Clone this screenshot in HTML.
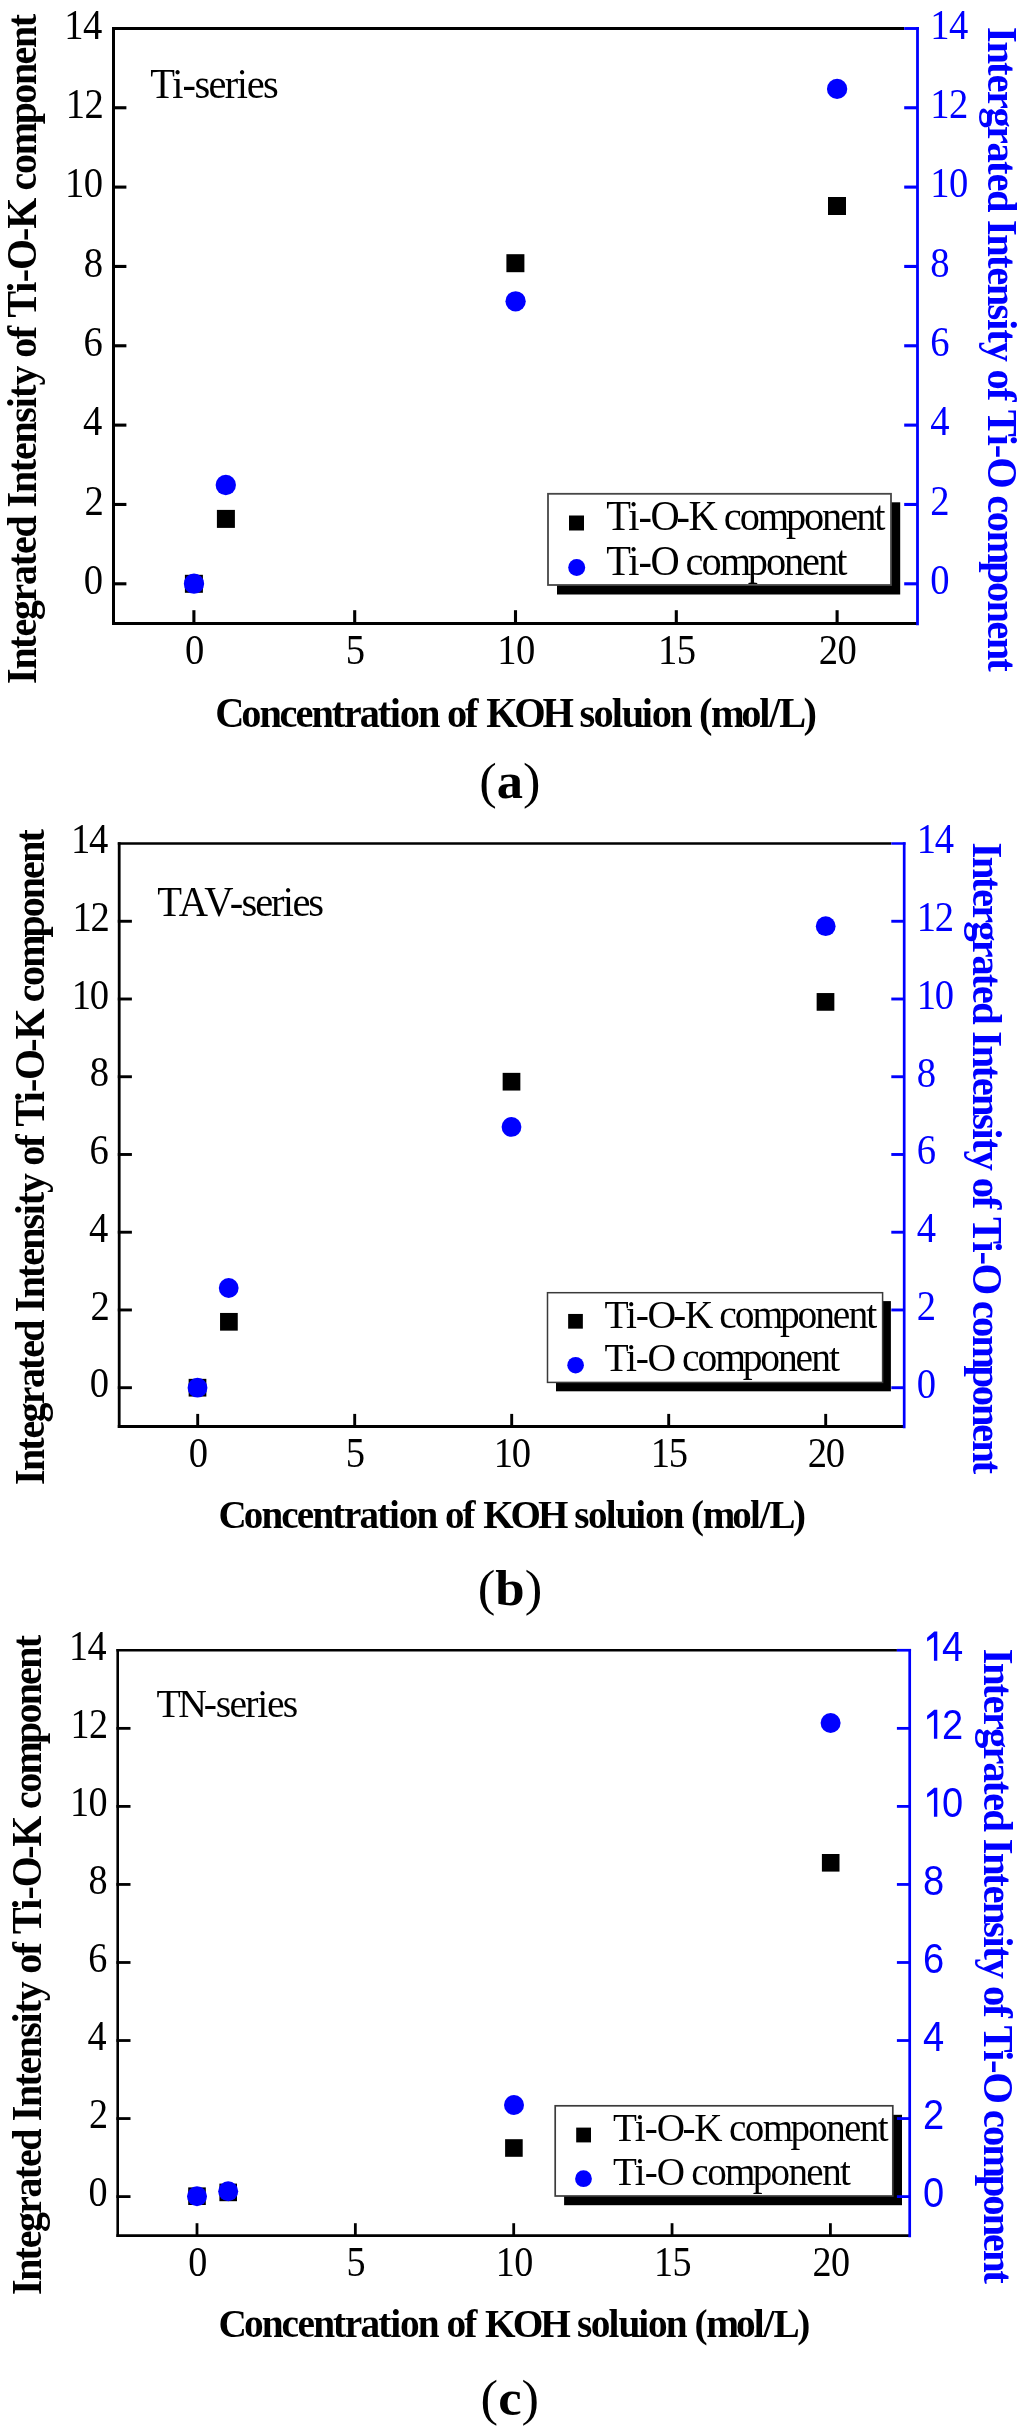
<!DOCTYPE html>
<html><head><meta charset="utf-8"><title>Integrated intensity vs KOH concentration</title>
<style>
html,body{margin:0;padding:0;background:#fff;}
body{width:1024px;height:2428px;overflow:hidden;}
svg{display:block;will-change:transform;}
text{font-kerning:none;font-variant-ligatures:none;white-space:pre;}
</style></head>
<body>
<svg width="1024" height="2428" viewBox="0 0 1024 2428">
<rect width="1024" height="2428" fill="#fff"/>
<rect x="184.90" y="574.80" width="18.00" height="18.00" fill="#000" />
<rect x="216.90" y="509.90" width="18.00" height="18.00" fill="#000" />
<rect x="506.40" y="254.20" width="18.00" height="18.00" fill="#000" />
<rect x="828.00" y="197.00" width="18.00" height="18.00" fill="#000" />
<circle cx="194.00" cy="583.70" r="10.15" fill="#0000ff"/>
<circle cx="225.80" cy="485.00" r="10.15" fill="#0000ff"/>
<circle cx="515.60" cy="301.30" r="10.15" fill="#0000ff"/>
<circle cx="837.10" cy="88.90" r="10.15" fill="#0000ff"/>
<rect x="557.00" y="502.30" width="343.20" height="92.20" fill="#000" />
<rect x="548.00" y="493.80" width="343.00" height="91.20" fill="#fff" stroke="#474747" stroke-width="1.8"/>
<rect x="569.00" y="515.50" width="15.00" height="15.00" fill="#000" />
<circle cx="576.70" cy="567.60" r="8.50" fill="#0000ff"/>
<text transform="translate(606.27 530.00) scale(0.97 1)" x="0.00 22.76 33.12 45.53 72.44 84.85 111.77 121.08 137.62 156.26 185.24 203.88 222.51 241.14 257.69 276.32" font-family='"Liberation Serif", serif' font-weight="normal" font-size="41.70" fill="#000">Ti-O-K component</text>
<text transform="translate(606.27 574.90) scale(0.97 1)" x="0.00 22.76 33.12 45.53 72.44 81.76 98.30 116.93 145.92 164.55 183.19 201.82 218.36 237.00" font-family='"Liberation Serif", serif' font-weight="normal" font-size="41.70" fill="#000">Ti-O component</text>
<line x1="112.00" y1="583.80" x2="126.40" y2="583.80" stroke="#000" stroke-width="3.1"/>
<line x1="904.20" y1="583.80" x2="917.50" y2="583.80" stroke="#0000ff" stroke-width="3.1"/>
<line x1="112.00" y1="504.46" x2="126.40" y2="504.46" stroke="#000" stroke-width="3.1"/>
<line x1="904.20" y1="504.46" x2="917.50" y2="504.46" stroke="#0000ff" stroke-width="3.1"/>
<line x1="112.00" y1="425.12" x2="126.40" y2="425.12" stroke="#000" stroke-width="3.1"/>
<line x1="904.20" y1="425.12" x2="917.50" y2="425.12" stroke="#0000ff" stroke-width="3.1"/>
<line x1="112.00" y1="345.78" x2="126.40" y2="345.78" stroke="#000" stroke-width="3.1"/>
<line x1="904.20" y1="345.78" x2="917.50" y2="345.78" stroke="#0000ff" stroke-width="3.1"/>
<line x1="112.00" y1="266.44" x2="126.40" y2="266.44" stroke="#000" stroke-width="3.1"/>
<line x1="904.20" y1="266.44" x2="917.50" y2="266.44" stroke="#0000ff" stroke-width="3.1"/>
<line x1="112.00" y1="187.10" x2="126.40" y2="187.10" stroke="#000" stroke-width="3.1"/>
<line x1="904.20" y1="187.10" x2="917.50" y2="187.10" stroke="#0000ff" stroke-width="3.1"/>
<line x1="112.00" y1="107.76" x2="126.40" y2="107.76" stroke="#000" stroke-width="3.1"/>
<line x1="904.20" y1="107.76" x2="917.50" y2="107.76" stroke="#0000ff" stroke-width="3.1"/>
<line x1="193.90" y1="623.50" x2="193.90" y2="610.20" stroke="#000" stroke-width="3.1"/>
<line x1="354.70" y1="623.50" x2="354.70" y2="610.20" stroke="#000" stroke-width="3.1"/>
<line x1="515.50" y1="623.50" x2="515.50" y2="610.20" stroke="#000" stroke-width="3.1"/>
<line x1="676.30" y1="623.50" x2="676.30" y2="610.20" stroke="#000" stroke-width="3.1"/>
<line x1="837.10" y1="623.50" x2="837.10" y2="610.20" stroke="#000" stroke-width="3.1"/>
<line x1="112.00" y1="28.50" x2="904.20" y2="28.50" stroke="#000" stroke-width="2.9"/>
<line x1="904.20" y1="28.50" x2="918.90" y2="28.50" stroke="#0000ff" stroke-width="2.9"/>
<line x1="112.00" y1="623.50" x2="917.50" y2="623.50" stroke="#000" stroke-width="2.8"/>
<line x1="113.50" y1="27.05" x2="113.50" y2="624.90" stroke="#000" stroke-width="3.0"/>
<line x1="917.50" y1="27.05" x2="917.50" y2="625.20" stroke="#0000ff" stroke-width="2.8"/>
<text transform="translate(83.85 594.10) scale(0.9200 1)" font-family='"Liberation Serif", serif' font-weight="normal" font-size="42.00" fill="#000" letter-spacing="-0.600">0</text>
<text transform="translate(930.30 594.00) scale(0.9200 1)" font-family='"Liberation Serif", serif' font-weight="normal" font-size="42.00" fill="#0000ff" letter-spacing="-0.600">0</text>
<text transform="translate(84.51 514.76) scale(0.9200 1)" font-family='"Liberation Serif", serif' font-weight="normal" font-size="42.00" fill="#000" letter-spacing="-0.600">2</text>
<text transform="translate(930.30 514.66) scale(0.9200 1)" font-family='"Liberation Serif", serif' font-weight="normal" font-size="42.00" fill="#0000ff" letter-spacing="-0.600">2</text>
<text transform="translate(82.98 435.42) scale(0.9200 1)" font-family='"Liberation Serif", serif' font-weight="normal" font-size="42.00" fill="#000" letter-spacing="-0.600">4</text>
<text transform="translate(930.30 435.32) scale(0.9200 1)" font-family='"Liberation Serif", serif' font-weight="normal" font-size="42.00" fill="#0000ff" letter-spacing="-0.600">4</text>
<text transform="translate(83.53 356.08) scale(0.9200 1)" font-family='"Liberation Serif", serif' font-weight="normal" font-size="42.00" fill="#000" letter-spacing="-0.600">6</text>
<text transform="translate(930.30 355.98) scale(0.9200 1)" font-family='"Liberation Serif", serif' font-weight="normal" font-size="42.00" fill="#0000ff" letter-spacing="-0.600">6</text>
<text transform="translate(83.85 276.74) scale(0.9200 1)" font-family='"Liberation Serif", serif' font-weight="normal" font-size="42.00" fill="#000" letter-spacing="-0.600">8</text>
<text transform="translate(930.30 276.64) scale(0.9200 1)" font-family='"Liberation Serif", serif' font-weight="normal" font-size="42.00" fill="#0000ff" letter-spacing="-0.600">8</text>
<text transform="translate(65.08 197.40) scale(0.9200 1)" font-family='"Liberation Serif", serif' font-weight="normal" font-size="42.00" fill="#000" letter-spacing="-0.600">10</text>
<text transform="translate(930.30 197.30) scale(0.9200 1)" font-family='"Liberation Serif", serif' font-weight="normal" font-size="42.00" fill="#0000ff" letter-spacing="-0.600">10</text>
<text transform="translate(65.74 118.06) scale(0.9200 1)" font-family='"Liberation Serif", serif' font-weight="normal" font-size="42.00" fill="#000" letter-spacing="-0.600">12</text>
<text transform="translate(930.30 117.96) scale(0.9200 1)" font-family='"Liberation Serif", serif' font-weight="normal" font-size="42.00" fill="#0000ff" letter-spacing="-0.600">12</text>
<text transform="translate(64.22 38.72) scale(0.9200 1)" font-family='"Liberation Serif", serif' font-weight="normal" font-size="42.00" fill="#000" letter-spacing="-0.600">14</text>
<text transform="translate(930.30 38.62) scale(0.9200 1)" font-family='"Liberation Serif", serif' font-weight="normal" font-size="42.00" fill="#0000ff" letter-spacing="-0.600">14</text>
<text transform="translate(185.04 664.00) scale(0.9200 1)" font-family='"Liberation Serif", serif' font-weight="normal" font-size="42.00" fill="#000" letter-spacing="-0.600">0</text>
<text transform="translate(345.84 664.00) scale(0.9200 1)" font-family='"Liberation Serif", serif' font-weight="normal" font-size="42.00" fill="#000" letter-spacing="-0.600">5</text>
<text transform="translate(497.26 664.00) scale(0.9200 1)" font-family='"Liberation Serif", serif' font-weight="normal" font-size="42.00" fill="#000" letter-spacing="-0.600">10</text>
<text transform="translate(658.06 664.00) scale(0.9200 1)" font-family='"Liberation Serif", serif' font-weight="normal" font-size="42.00" fill="#000" letter-spacing="-0.600">15</text>
<text transform="translate(818.86 664.00) scale(0.9200 1)" font-family='"Liberation Serif", serif' font-weight="normal" font-size="42.00" fill="#000" letter-spacing="-0.600">20</text>
<text transform="translate(36.00 684.05) rotate(-90) scale(0.97 1)" x="0.00 14.92 36.23 49.00 66.01 85.17 102.19 121.35 134.12 151.13 172.44 182.03 196.94 218.26 231.02 248.04 269.35 284.27 294.92 307.68 326.85 336.43 355.59 368.36 377.94 403.51 414.16 426.92 456.73 469.50 499.31 508.89 525.91 545.07 577.00 598.32 617.48 638.80 655.81 677.13" font-family='"Liberation Serif", serif' font-weight="bold" font-size="41.20" fill="#000">Integrated Intensity of Ti-O-K component</text>
<text transform="translate(988.20 27.03) rotate(90) scale(0.97 1)" x="0.00 14.90 36.19 48.95 65.94 82.93 102.08 119.07 138.22 150.97 167.96 189.26 198.83 213.73 235.02 247.77 264.77 286.06 300.96 311.60 324.35 343.49 353.07 372.21 384.96 394.53 420.07 430.71 443.46 473.24 482.81 499.81 518.95 550.85 572.14 591.29 612.58 629.57 650.87" font-family='"Liberation Serif", serif' font-weight="bold" font-size="41.80" fill="#0000ff">Intergrated Intensity of Ti-O component</text>
<text transform="translate(215.22 726.80) scale(0.97 1)" x="0.00 26.90 45.53 66.24 82.78 99.31 120.03 132.43 148.97 167.59 180.00 190.34 208.97 229.69 239.00 257.62 270.03 279.34 308.32 337.29 366.27 375.58 390.07 408.70 419.05 439.77 450.12 468.74 489.46 498.77 511.17 542.20 560.83 571.18 581.53 606.37" font-family='"Liberation Serif", serif' font-weight="bold" font-size="41.70" fill="#000">Concentration of KOH soluion (mol/L)</text>
<text transform="translate(479.19 797.80) scale(1.0174 1)" font-family='"Liberation Serif", serif' font-size="51.60" fill="#000">(<tspan font-weight="bold">a</tspan>)</text>
<text transform="translate(150.17 97.50) scale(0.97 1)" x="0.00 22.84 33.22 45.67 60.22 76.81 89.26 99.65 116.24" font-family='"Liberation Serif", serif' font-weight="normal" font-size="41.70" fill="#000">Ti-series</text>
<rect x="188.65" y="1378.85" width="17.70" height="17.70" fill="#000" />
<rect x="220.05" y="1312.95" width="17.70" height="17.70" fill="#000" />
<rect x="502.65" y="1072.85" width="17.70" height="17.70" fill="#000" />
<rect x="816.65" y="993.05" width="17.70" height="17.70" fill="#000" />
<circle cx="197.50" cy="1387.70" r="9.90" fill="#0000ff"/>
<circle cx="228.70" cy="1288.00" r="9.90" fill="#0000ff"/>
<circle cx="511.50" cy="1126.90" r="9.90" fill="#0000ff"/>
<circle cx="825.70" cy="926.20" r="9.90" fill="#0000ff"/>
<rect x="556.00" y="1301.10" width="334.90" height="90.20" fill="#000" />
<rect x="547.50" y="1292.70" width="335.10" height="89.70" fill="#fff" stroke="#3a3a3a" stroke-width="1.5"/>
<rect x="568.15" y="1313.95" width="14.70" height="14.70" fill="#000" />
<circle cx="575.60" cy="1365.20" r="8.30" fill="#0000ff"/>
<text transform="translate(604.49 1327.80) scale(0.97 1)" x="0.00 22.22 32.33 44.45 70.72 82.83 109.11 118.20 134.35 152.54 180.84 199.03 217.22 235.41 251.55 269.74" font-family='"Liberation Serif", serif' font-weight="normal" font-size="40.80" fill="#000">Ti-O-K component</text>
<text transform="translate(604.49 1371.40) scale(0.97 1)" x="0.00 22.22 32.33 44.45 70.72 79.81 95.96 114.15 142.45 160.64 178.83 197.02 213.17 231.36" font-family='"Liberation Serif", serif' font-weight="normal" font-size="40.80" fill="#000">Ti-O component</text>
<line x1="117.80" y1="1387.70" x2="131.90" y2="1387.70" stroke="#000" stroke-width="2.9"/>
<line x1="891.30" y1="1387.70" x2="904.20" y2="1387.70" stroke="#0000ff" stroke-width="2.9"/>
<line x1="117.80" y1="1309.96" x2="131.90" y2="1309.96" stroke="#000" stroke-width="2.9"/>
<line x1="891.30" y1="1309.96" x2="904.20" y2="1309.96" stroke="#0000ff" stroke-width="2.9"/>
<line x1="117.80" y1="1232.22" x2="131.90" y2="1232.22" stroke="#000" stroke-width="2.9"/>
<line x1="891.30" y1="1232.22" x2="904.20" y2="1232.22" stroke="#0000ff" stroke-width="2.9"/>
<line x1="117.80" y1="1154.48" x2="131.90" y2="1154.48" stroke="#000" stroke-width="2.9"/>
<line x1="891.30" y1="1154.48" x2="904.20" y2="1154.48" stroke="#0000ff" stroke-width="2.9"/>
<line x1="117.80" y1="1076.74" x2="131.90" y2="1076.74" stroke="#000" stroke-width="2.9"/>
<line x1="891.30" y1="1076.74" x2="904.20" y2="1076.74" stroke="#0000ff" stroke-width="2.9"/>
<line x1="117.80" y1="999.00" x2="131.90" y2="999.00" stroke="#000" stroke-width="2.9"/>
<line x1="891.30" y1="999.00" x2="904.20" y2="999.00" stroke="#0000ff" stroke-width="2.9"/>
<line x1="117.80" y1="921.26" x2="131.90" y2="921.26" stroke="#000" stroke-width="2.9"/>
<line x1="891.30" y1="921.26" x2="904.20" y2="921.26" stroke="#0000ff" stroke-width="2.9"/>
<line x1="197.70" y1="1426.50" x2="197.70" y2="1413.90" stroke="#000" stroke-width="2.9"/>
<line x1="354.70" y1="1426.50" x2="354.70" y2="1413.90" stroke="#000" stroke-width="2.9"/>
<line x1="511.70" y1="1426.50" x2="511.70" y2="1413.90" stroke="#000" stroke-width="2.9"/>
<line x1="668.70" y1="1426.50" x2="668.70" y2="1413.90" stroke="#000" stroke-width="2.9"/>
<line x1="825.70" y1="1426.50" x2="825.70" y2="1413.90" stroke="#000" stroke-width="2.9"/>
<line x1="117.80" y1="843.50" x2="891.30" y2="843.50" stroke="#000" stroke-width="2.5"/>
<line x1="891.30" y1="843.50" x2="905.55" y2="843.50" stroke="#0000ff" stroke-width="2.5"/>
<line x1="117.80" y1="1426.50" x2="904.20" y2="1426.50" stroke="#000" stroke-width="3.0"/>
<line x1="119.20" y1="842.25" x2="119.20" y2="1428.00" stroke="#000" stroke-width="2.8"/>
<line x1="904.20" y1="842.25" x2="904.20" y2="1428.30" stroke="#0000ff" stroke-width="2.7"/>
<text transform="translate(89.85 1397.30) scale(0.9200 1)" font-family='"Liberation Serif", serif' font-weight="normal" font-size="42.00" fill="#000" letter-spacing="-1.400">0</text>
<text transform="translate(916.70 1397.60) scale(0.9200 1)" font-family='"Liberation Serif", serif' font-weight="normal" font-size="42.00" fill="#0000ff" letter-spacing="-1.400">0</text>
<text transform="translate(90.51 1319.56) scale(0.9200 1)" font-family='"Liberation Serif", serif' font-weight="normal" font-size="42.00" fill="#000" letter-spacing="-1.400">2</text>
<text transform="translate(916.70 1319.86) scale(0.9200 1)" font-family='"Liberation Serif", serif' font-weight="normal" font-size="42.00" fill="#0000ff" letter-spacing="-1.400">2</text>
<text transform="translate(88.98 1241.82) scale(0.9200 1)" font-family='"Liberation Serif", serif' font-weight="normal" font-size="42.00" fill="#000" letter-spacing="-1.400">4</text>
<text transform="translate(916.70 1242.12) scale(0.9200 1)" font-family='"Liberation Serif", serif' font-weight="normal" font-size="42.00" fill="#0000ff" letter-spacing="-1.400">4</text>
<text transform="translate(89.53 1164.08) scale(0.9200 1)" font-family='"Liberation Serif", serif' font-weight="normal" font-size="42.00" fill="#000" letter-spacing="-1.400">6</text>
<text transform="translate(916.70 1164.38) scale(0.9200 1)" font-family='"Liberation Serif", serif' font-weight="normal" font-size="42.00" fill="#0000ff" letter-spacing="-1.400">6</text>
<text transform="translate(89.85 1086.34) scale(0.9200 1)" font-family='"Liberation Serif", serif' font-weight="normal" font-size="42.00" fill="#000" letter-spacing="-1.400">8</text>
<text transform="translate(916.70 1086.64) scale(0.9200 1)" font-family='"Liberation Serif", serif' font-weight="normal" font-size="42.00" fill="#0000ff" letter-spacing="-1.400">8</text>
<text transform="translate(71.82 1008.60) scale(0.9200 1)" font-family='"Liberation Serif", serif' font-weight="normal" font-size="42.00" fill="#000" letter-spacing="-1.400">10</text>
<text transform="translate(916.70 1008.90) scale(0.9200 1)" font-family='"Liberation Serif", serif' font-weight="normal" font-size="42.00" fill="#0000ff" letter-spacing="-1.400">10</text>
<text transform="translate(72.48 930.86) scale(0.9200 1)" font-family='"Liberation Serif", serif' font-weight="normal" font-size="42.00" fill="#000" letter-spacing="-1.400">12</text>
<text transform="translate(916.70 931.16) scale(0.9200 1)" font-family='"Liberation Serif", serif' font-weight="normal" font-size="42.00" fill="#0000ff" letter-spacing="-1.400">12</text>
<text transform="translate(70.95 853.12) scale(0.9200 1)" font-family='"Liberation Serif", serif' font-weight="normal" font-size="42.00" fill="#000" letter-spacing="-1.400">14</text>
<text transform="translate(916.70 853.42) scale(0.9200 1)" font-family='"Liberation Serif", serif' font-weight="normal" font-size="42.00" fill="#0000ff" letter-spacing="-1.400">14</text>
<text transform="translate(188.84 1466.50) scale(0.9200 1)" font-family='"Liberation Serif", serif' font-weight="normal" font-size="42.00" fill="#000" letter-spacing="-1.400">0</text>
<text transform="translate(345.84 1466.50) scale(0.9200 1)" font-family='"Liberation Serif", serif' font-weight="normal" font-size="42.00" fill="#000" letter-spacing="-1.400">5</text>
<text transform="translate(493.82 1466.50) scale(0.9200 1)" font-family='"Liberation Serif", serif' font-weight="normal" font-size="42.00" fill="#000" letter-spacing="-1.400">10</text>
<text transform="translate(650.82 1466.50) scale(0.9200 1)" font-family='"Liberation Serif", serif' font-weight="normal" font-size="42.00" fill="#000" letter-spacing="-1.400">15</text>
<text transform="translate(807.82 1466.50) scale(0.9200 1)" font-family='"Liberation Serif", serif' font-weight="normal" font-size="42.00" fill="#000" letter-spacing="-1.400">20</text>
<text transform="translate(43.50 1485.05) rotate(-90) scale(0.97 1)" x="0.00 14.59 35.44 47.93 64.57 83.32 99.96 118.71 131.20 147.84 168.69 178.06 192.66 213.51 225.99 242.64 263.49 278.08 288.50 300.98 319.73 329.11 347.85 360.34 369.71 394.72 405.14 417.62 446.79 459.28 488.44 497.81 514.46 533.20 564.44 585.29 604.04 624.89 641.53 662.39" font-family='"Liberation Serif", serif' font-weight="bold" font-size="41.20" fill="#000">Integrated Intensity of Ti-O-K component</text>
<text transform="translate(973.00 842.53) rotate(90) scale(0.97 1)" x="0.00 14.58 35.42 47.90 64.53 81.17 99.90 116.53 135.27 147.75 164.38 185.22 194.59 209.17 230.01 242.49 259.12 279.96 294.55 304.96 317.44 336.17 345.54 364.28 376.76 386.12 411.12 421.53 434.01 463.15 472.52 489.15 507.89 539.11 559.95 578.68 599.52 616.15 636.99" font-family='"Liberation Serif", serif' font-weight="bold" font-size="42.00" fill="#0000ff">Intergrated Intensity of Ti-O component</text>
<text transform="translate(218.39 1527.70) scale(0.97 1)" x="0.00 26.28 44.48 64.73 80.88 97.04 117.28 129.40 145.55 163.75 175.87 185.98 204.18 224.43 233.52 251.72 263.84 272.94 301.25 329.56 357.88 366.97 381.14 399.34 409.45 429.69 439.80 458.00 478.24 487.34 499.46 529.78 547.98 558.09 568.21 592.48" font-family='"Liberation Serif", serif' font-weight="bold" font-size="40.30" fill="#000">Concentration of KOH soluion (mol/L)</text>
<text transform="translate(477.68 1605.00) scale(1.0214 1)" font-family='"Liberation Serif", serif' font-size="51.70" fill="#000">(<tspan font-weight="bold">b</tspan>)</text>
<text transform="translate(157.27 916.30) scale(0.97 1)" x="0.00 22.24 48.54 74.83 86.96 101.13 117.29 129.41 139.53 155.69" font-family='"Liberation Serif", serif' font-weight="normal" font-size="41.80" fill="#000">TAV-series</text>
<rect x="188.20" y="2187.40" width="17.60" height="17.60" fill="#000" />
<rect x="219.40" y="2183.60" width="17.60" height="17.60" fill="#000" />
<rect x="505.10" y="2139.20" width="17.60" height="17.60" fill="#000" />
<rect x="821.90" y="1854.00" width="17.60" height="17.60" fill="#000" />
<circle cx="197.00" cy="2196.30" r="10.00" fill="#0000ff"/>
<circle cx="228.20" cy="2191.20" r="10.00" fill="#0000ff"/>
<circle cx="514.00" cy="2105.00" r="10.00" fill="#0000ff"/>
<circle cx="830.60" cy="1723.00" r="10.00" fill="#0000ff"/>
<rect x="564.10" y="2114.80" width="337.90" height="90.40" fill="#000" />
<rect x="555.20" y="2105.80" width="337.60" height="90.20" fill="#fff" stroke="#3c3c3c" stroke-width="1.7"/>
<rect x="576.20" y="2127.60" width="14.80" height="14.80" fill="#000" />
<circle cx="583.50" cy="2178.70" r="8.40" fill="#0000ff"/>
<text transform="translate(613.04 2141.20) scale(0.97 1)" x="0.00 22.48 32.70 44.95 71.52 83.77 110.35 119.54 135.87 154.27 182.89 201.29 219.68 238.08 254.41 272.81" font-family='"Liberation Serif", serif' font-weight="normal" font-size="40.30" fill="#000">Ti-O-K component</text>
<text transform="translate(613.04 2185.30) scale(0.97 1)" x="0.00 22.48 32.70 44.95 71.52 80.72 97.05 115.45 144.07 162.46 180.86 199.26 215.59 233.98" font-family='"Liberation Serif", serif' font-weight="normal" font-size="40.30" fill="#000">Ti-O component</text>
<line x1="116.40" y1="2196.60" x2="130.50" y2="2196.60" stroke="#000" stroke-width="2.8"/>
<line x1="896.90" y1="2196.60" x2="909.70" y2="2196.60" stroke="#0000ff" stroke-width="2.8"/>
<line x1="116.40" y1="2118.56" x2="130.50" y2="2118.56" stroke="#000" stroke-width="2.8"/>
<line x1="896.90" y1="2118.56" x2="909.70" y2="2118.56" stroke="#0000ff" stroke-width="2.8"/>
<line x1="116.40" y1="2040.52" x2="130.50" y2="2040.52" stroke="#000" stroke-width="2.8"/>
<line x1="896.90" y1="2040.52" x2="909.70" y2="2040.52" stroke="#0000ff" stroke-width="2.8"/>
<line x1="116.40" y1="1962.48" x2="130.50" y2="1962.48" stroke="#000" stroke-width="2.8"/>
<line x1="896.90" y1="1962.48" x2="909.70" y2="1962.48" stroke="#0000ff" stroke-width="2.8"/>
<line x1="116.40" y1="1884.44" x2="130.50" y2="1884.44" stroke="#000" stroke-width="2.8"/>
<line x1="896.90" y1="1884.44" x2="909.70" y2="1884.44" stroke="#0000ff" stroke-width="2.8"/>
<line x1="116.40" y1="1806.40" x2="130.50" y2="1806.40" stroke="#000" stroke-width="2.8"/>
<line x1="896.90" y1="1806.40" x2="909.70" y2="1806.40" stroke="#0000ff" stroke-width="2.8"/>
<line x1="116.40" y1="1728.36" x2="130.50" y2="1728.36" stroke="#000" stroke-width="2.8"/>
<line x1="896.90" y1="1728.36" x2="909.70" y2="1728.36" stroke="#0000ff" stroke-width="2.8"/>
<line x1="197.00" y1="2235.65" x2="197.00" y2="2223.20" stroke="#000" stroke-width="2.8"/>
<line x1="355.35" y1="2235.65" x2="355.35" y2="2223.20" stroke="#000" stroke-width="2.8"/>
<line x1="513.70" y1="2235.65" x2="513.70" y2="2223.20" stroke="#000" stroke-width="2.8"/>
<line x1="672.05" y1="2235.65" x2="672.05" y2="2223.20" stroke="#000" stroke-width="2.8"/>
<line x1="830.40" y1="2235.65" x2="830.40" y2="2223.20" stroke="#000" stroke-width="2.8"/>
<line x1="116.40" y1="1650.25" x2="896.90" y2="1650.25" stroke="#000" stroke-width="2.7"/>
<line x1="896.90" y1="1650.25" x2="911.05" y2="1650.25" stroke="#0000ff" stroke-width="2.7"/>
<line x1="116.40" y1="2235.65" x2="909.70" y2="2235.65" stroke="#000" stroke-width="2.7"/>
<line x1="117.70" y1="1648.90" x2="117.70" y2="2237.00" stroke="#000" stroke-width="2.6"/>
<line x1="909.70" y1="1648.90" x2="909.70" y2="2237.30" stroke="#0000ff" stroke-width="2.7"/>
<text transform="translate(88.46 2206.10) scale(0.9200 1)" font-family='"Liberation Serif", serif' font-weight="normal" font-size="41.50" fill="#000" letter-spacing="-0.600">0</text>
<text transform="translate(923.10 2207.00) scale(0.9000 1)" font-family='"Liberation Sans", sans-serif' font-weight="normal" font-size="42.30" fill="#0000ff" letter-spacing="-2.450">0</text>
<text transform="translate(89.12 2128.06) scale(0.9200 1)" font-family='"Liberation Serif", serif' font-weight="normal" font-size="41.50" fill="#000" letter-spacing="-0.600">2</text>
<text transform="translate(923.10 2128.96) scale(0.9000 1)" font-family='"Liberation Sans", sans-serif' font-weight="normal" font-size="42.30" fill="#0000ff" letter-spacing="-2.450">2</text>
<text transform="translate(87.61 2050.02) scale(0.9200 1)" font-family='"Liberation Serif", serif' font-weight="normal" font-size="41.50" fill="#000" letter-spacing="-0.600">4</text>
<text transform="translate(923.10 2050.92) scale(0.9000 1)" font-family='"Liberation Sans", sans-serif' font-weight="normal" font-size="42.30" fill="#0000ff" letter-spacing="-2.450">4</text>
<text transform="translate(88.15 1971.98) scale(0.9200 1)" font-family='"Liberation Serif", serif' font-weight="normal" font-size="41.50" fill="#000" letter-spacing="-0.600">6</text>
<text transform="translate(923.10 1972.88) scale(0.9000 1)" font-family='"Liberation Sans", sans-serif' font-weight="normal" font-size="42.30" fill="#0000ff" letter-spacing="-2.450">6</text>
<text transform="translate(88.46 1893.94) scale(0.9200 1)" font-family='"Liberation Serif", serif' font-weight="normal" font-size="41.50" fill="#000" letter-spacing="-0.600">8</text>
<text transform="translate(923.10 1894.84) scale(0.9000 1)" font-family='"Liberation Sans", sans-serif' font-weight="normal" font-size="42.30" fill="#0000ff" letter-spacing="-2.450">8</text>
<text transform="translate(69.93 1815.90) scale(0.9200 1)" font-family='"Liberation Serif", serif' font-weight="normal" font-size="41.50" fill="#000" letter-spacing="-0.600">10</text>
<path d="M933.94 1816.80 L933.94 1793.05 L927.13 1797.49 L927.13 1793.87 L934.25 1787.70 L937.30 1787.70 L937.30 1816.80 Z" fill="#0000ff"/>
<text transform="translate(942.07 1816.80) scale(0.9000 1)" font-family='"Liberation Sans", sans-serif' font-weight="normal" font-size="42.30" fill="#0000ff" letter-spacing="-2.450">0</text>
<text transform="translate(70.58 1737.86) scale(0.9200 1)" font-family='"Liberation Serif", serif' font-weight="normal" font-size="41.50" fill="#000" letter-spacing="-0.600">12</text>
<path d="M933.94 1738.76 L933.94 1715.01 L927.13 1719.45 L927.13 1715.83 L934.25 1709.66 L937.30 1709.66 L937.30 1738.76 Z" fill="#0000ff"/>
<text transform="translate(942.07 1738.76) scale(0.9000 1)" font-family='"Liberation Sans", sans-serif' font-weight="normal" font-size="42.30" fill="#0000ff" letter-spacing="-2.450">2</text>
<text transform="translate(69.07 1659.82) scale(0.9200 1)" font-family='"Liberation Serif", serif' font-weight="normal" font-size="41.50" fill="#000" letter-spacing="-0.600">14</text>
<path d="M933.94 1660.72 L933.94 1636.97 L927.13 1641.41 L927.13 1637.79 L934.25 1631.62 L937.30 1631.62 L937.30 1660.72 Z" fill="#0000ff"/>
<text transform="translate(942.07 1660.72) scale(0.9000 1)" font-family='"Liberation Sans", sans-serif' font-weight="normal" font-size="42.30" fill="#0000ff" letter-spacing="-2.450">4</text>
<text transform="translate(188.26 2275.70) scale(0.9200 1)" font-family='"Liberation Serif", serif' font-weight="normal" font-size="41.50" fill="#000" letter-spacing="-0.600">0</text>
<text transform="translate(346.61 2275.70) scale(0.9200 1)" font-family='"Liberation Serif", serif' font-weight="normal" font-size="41.50" fill="#000" letter-spacing="-0.600">5</text>
<text transform="translate(495.69 2275.70) scale(0.9200 1)" font-family='"Liberation Serif", serif' font-weight="normal" font-size="41.50" fill="#000" letter-spacing="-0.600">10</text>
<text transform="translate(654.04 2275.70) scale(0.9200 1)" font-family='"Liberation Serif", serif' font-weight="normal" font-size="41.50" fill="#000" letter-spacing="-0.600">15</text>
<text transform="translate(812.39 2275.70) scale(0.9200 1)" font-family='"Liberation Serif", serif' font-weight="normal" font-size="41.50" fill="#000" letter-spacing="-0.600">20</text>
<text transform="translate(41.40 2295.05) rotate(-90) scale(0.97 1)" x="0.00 14.69 35.68 48.24 64.99 83.86 100.62 119.49 132.05 148.80 169.79 179.23 193.91 214.90 227.47 244.22 265.21 279.90 290.38 302.95 321.82 331.26 350.13 362.69 372.13 397.30 407.79 420.35 449.71 462.28 491.63 501.07 517.82 536.69 568.13 589.12 607.99 628.98 645.73 666.72" font-family='"Liberation Serif", serif' font-weight="bold" font-size="41.20" fill="#000">Integrated Intensity of Ti-O-K component</text>
<text transform="translate(984.00 1648.83) rotate(90) scale(0.97 1)" x="0.00 14.67 35.63 48.18 64.91 81.64 100.48 117.21 136.06 148.61 165.34 186.30 195.72 210.39 231.35 243.90 260.63 281.59 296.26 306.73 319.29 338.13 347.55 366.40 378.95 388.37 413.51 423.98 436.54 465.85 475.28 492.00 510.85 542.25 563.21 582.05 603.02 619.74 640.71" font-family='"Liberation Serif", serif' font-weight="bold" font-size="42.00" fill="#0000ff">Intergrated Intensity of Ti-O component</text>
<text transform="translate(218.38 2336.90) scale(0.97 1)" x="0.00 26.47 44.80 65.19 81.46 97.73 118.12 130.33 146.60 164.93 177.14 187.32 205.65 226.04 235.20 253.53 265.74 274.90 303.42 331.93 360.45 369.61 383.88 402.21 412.39 432.78 442.96 461.29 481.68 490.85 503.05 533.59 551.92 562.11 572.29 596.74" font-family='"Liberation Serif", serif' font-weight="bold" font-size="40.60" fill="#000">Concentration of KOH soluion (mol/L)</text>
<text transform="translate(480.59 2414.50) scale(1.0282 1)" font-family='"Liberation Serif", serif' font-size="51.20" fill="#000">(<tspan font-weight="bold">c</tspan>)</text>
<text transform="translate(156.48 1716.90) scale(0.97 1)" x="0.00 22.38 48.85 61.05 75.31 91.57 103.77 113.95 130.22" font-family='"Liberation Serif", serif' font-weight="normal" font-size="40.90" fill="#000">TN-series</text>
</svg>
</body></html>
